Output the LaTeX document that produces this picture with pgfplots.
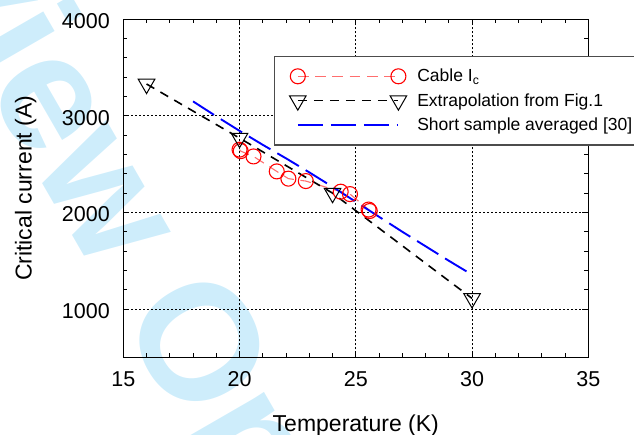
\documentclass[border=0pt]{standalone}
\usepackage{pgfplots}
\pgfplotsset{compat=1.18}
\usepackage{fontspec}
\setmainfont{Liberation Sans}
\definecolor{wmcyan}{RGB}{206,237,251}
\definecolor{cablered}{RGB}{255,0,0}
\definecolor{cableline}{RGB}{255,110,110}
\definecolor{shortblue}{RGB}{0,0,255}

\begin{document}
\begin{tikzpicture}
% watermark behind the chart
\node[rotate=-60, text=wmcyan, font=\fontsize{165bp}{165bp}\bfseries\selectfont]
  at (-107.3bp,305.3bp) {For Review Only};
\begin{axis}[
  scale only axis,
  width=465bp, height=338bp,
  xmin=15, xmax=35, ymin=500, ymax=4000,
  xtick={15,20,25,30,35},
  ytick={1000,2000,3000,4000},
  minor x tick num=4,
  minor y tick num=4,
  tick align=inside, tick pos=both,
  major tick length=6bp, minor tick length=4bp,
  every tick/.style={black, line width=0.9bp},
  axis line style={line width=1.3bp},
  grid=major,
  major grid style={black, line width=0.8bp, dash pattern=on 2bp off 2bp},
  /pgf/number format/assume math mode=true,
  /pgf/number format/1000 sep={},
  tick label style={font=\fontsize{21.5bp}{25bp}\selectfont, inner sep=0pt},
  yticklabel style={xshift=-13.3bp, yshift=-2bp},
  xticklabel style={yshift=-14.4bp},
  label style={font=\fontsize{23bp}{27bp}\selectfont},
  xlabel={Temperature (K)},
  ylabel={Critical current (A)},
  xlabel style={at={(axis description cs:0.5,-0.219)}, anchor=base},
  ylabel style={at={(axis description cs:-0.197,0.5)}, anchor=base},
  legend image code/.code={
    \draw[#1] plot coordinates {(0bp,0bp) (100.6bp,0bp)};
    \path[draw=none, fill=none] (-8.5bp,-10bp) rectangle (109.1bp,10bp);
  },
  legend style={
    at={(0.3241,0.8923)}, anchor=north west,
    draw=black!70, line width=1.2bp, fill=white,
    font=\fontsize{17.5bp}{20bp}\selectfont,
    inner xsep=14.7bp, inner ysep=10bp,
    row sep=4.3bp, column sep=10.4bp,
    nodes={inner sep=0pt},
    cells={anchor=west},
    column 2/.style={nodes={text height=13.4bp, text depth=0pt}},
  },
]
% Cable Ic
\addplot[color=cableline, line width=1.1bp, dash pattern=on 10.7bp off 6.6bp,
  mark=o, mark size=7.5bp, mark options={solid, draw=cablered, line width=1.1bp}]
  coordinates {
  (20.00,2650) (20.05,2635) (20.60,2580) (21.60,2425) (22.10,2350)
  (22.85,2325) (24.35,2215) (24.75,2190) (25.55,2030) (25.60,2015)};
\addlegendentry{Cable I\textsubscript{c}}
% Extrapolation from Fig.1
\addplot[color=black, line width=1.6bp, dash pattern=on 9bp off 7bp,
  mark=triangle, mark size=9.6bp, mark options={solid, rotate=180, line width=1bp, fill=none}]
  coordinates {(16.0,3330) (20.0,2770) (24.0,2200) (30.0,1110)};
\addlegendentry{Extrapolation from Fig.1}
% Short sample averaged [30]
\addplot[color=shortblue, line width=1.9bp, dash pattern=on 25bp off 8bp, no marks]
  coordinates {
  (18,3150) (19,2995) (20,2845) (21,2700) (22,2560) (23,2415) (24,2265)
  (25,2110) (26,1955) (27,1800) (28,1650) (29,1500) (30,1355)};
\addlegendentry{Short sample averaged [30]}
\end{axis}
\pgfresetboundingbox
\path (-123.3bp,-77.7bp) rectangle (510.7bp,357.3bp);
\end{tikzpicture}
\end{document}
